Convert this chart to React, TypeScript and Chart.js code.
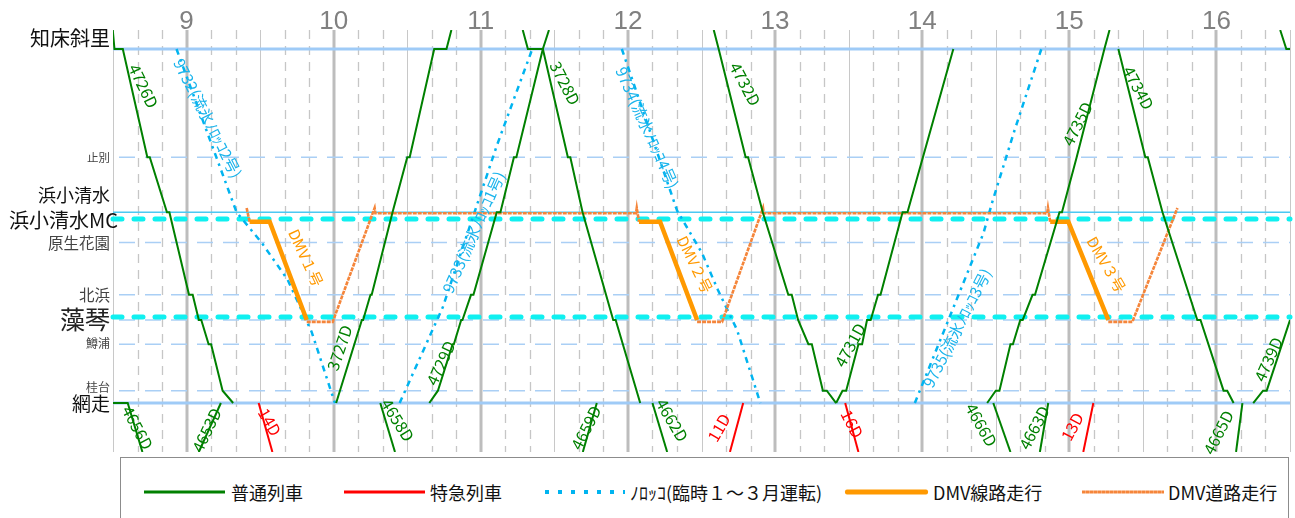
import React, { useEffect, useRef } from "react";
import { Chart, registerables } from "chart.js";

Chart.register(...registerables);

// ---------- axes ----------
const hourTicks = [9, 10, 11, 12, 13, 14, 15, 16];
const timeRange = ["8:30", "16:30"];
const gridStepMinutes = 10;

const stationNames = ["知床斜里", "止別", "浜小清水", "原生花園", "北浜", "藻琴", "鱒浦", "桂台", "網走"];
const stationKm = [37.3, 25.9, 20.1, 16.9, 11.4, 8.75, 6.2, 1.3, 0];
const edgeNames = ["釧路方面", "石北方面"];
const edgeKm = [39.3, -5.16];
const mcNames = ["浜小清水MC", "藻琴MC"];
const mcKm = [19.4, 9.06];

// ---------- local trains (普通列車) ----------
const t4656D = [["8:29", "網走"], ["8:36", "網走"], ["8:42", "石北方面"]];
const t4726D = [["8:29.9", "釧路方面"], ["8:30.6", "知床斜里"], ["8:34", "知床斜里"], ["8:44", "止別"], ["8:45", "止別"], ["8:52", "浜小清水"], ["8:53", "浜小清水"], ["9:01", "北浜"], ["9:02.5", "北浜"], ["9:05", "藻琴"], ["9:06", "藻琴"], ["9:09", "鱒浦"], ["9:10", "鱒浦"], ["9:14.7", "桂台"], ["9:19", "網走"]];
const t4653D = [["9:05", "石北方面"], ["9:14", "網走"]];
const t3727D = [["10:01", "網走"], ["10:11.5", "藻琴"], ["10:12", "藻琴"], ["10:15", "北浜"], ["10:15.5", "北浜"], ["10:24", "浜小清水"], ["10:30", "止別"], ["10:31", "止別"], ["10:41", "知床斜里"], ["10:46", "知床斜里"], ["10:48", "釧路方面"]];
const t4658D = [["10:19", "網走"], ["10:25", "石北方面"]];
const t4729D = [["10:39", "網走"], ["10:42.5", "桂台"], ["10:48.5", "鱒浦"], ["10:49", "鱒浦"], ["10:52", "藻琴"], ["10:52.5", "藻琴"], ["10:56", "北浜"], ["10:57", "北浜"], ["11:06.5", "浜小清水"], ["11:08", "浜小清水"], ["11:13.5", "止別"], ["11:14.5", "止別"], ["11:25.3", "知床斜里"], ["11:27.8", "釧路方面"]];
const t3728D = [["11:17.1", "釧路方面"], ["11:19.2", "知床斜里"], ["11:25.3", "知床斜里"], ["11:35.5", "止別"], ["11:36.5", "止別"], ["11:41.5", "浜小清水"], ["11:54", "藻琴"], ["11:55", "藻琴"], ["12:05", "網走"]];
const t4659D = [["11:41.6", "石北方面"], ["11:47.3", "網走"]];
const t4662D = [["12:10", "網走"], ["12:16", "石北方面"]];
const t4732D = [["12:35", "釧路方面"], ["12:37", "知床斜里"], ["12:48", "止別"], ["12:49", "止別"], ["12:55", "浜小清水"], ["13:05.4", "北浜"], ["13:06.8", "北浜"], ["13:09.4", "藻琴"], ["13:13.6", "鱒浦"], ["13:15", "鱒浦"], ["13:19.5", "桂台"], ["13:21.1", "桂台"], ["13:24.9", "網走"]];
const t4731D = [["13:24.9", "網走"], ["13:27.5", "桂台"], ["13:29", "桂台"], ["13:34", "鱒浦"], ["13:35.5", "鱒浦"], ["13:37.5", "藻琴"], ["13:39", "藻琴"], ["13:42", "北浜"], ["13:43", "北浜"], ["13:52", "浜小清水"], ["13:54", "浜小清水"], ["14:12.7", "知床斜里"]];
const t4666D = [["14:29", "網走"], ["14:36", "石北方面"]];
const t4735D = [["14:26.5", "網走"], ["14:30", "桂台"], ["14:31.5", "桂台"], ["14:36", "鱒浦"], ["14:37", "鱒浦"], ["14:40", "藻琴"], ["14:41", "藻琴"], ["14:45", "北浜"], ["14:46", "北浜"], ["14:56", "浜小清水"], ["14:57", "浜小清水"], ["15:03", "止別"], ["15:14.3", "知床斜里"], ["15:16.4", "釧路方面"]];
const t4663D = [["14:48", "石北方面"], ["14:51.4", "網走"]];
const t4734D = [["15:20", "知床斜里"], ["15:31", "止別"], ["15:32", "止別"], ["15:38", "浜小清水"], ["15:52.2", "藻琴"], ["15:53.5", "藻琴"], ["16:02.9", "桂台"], ["16:04.4", "桂台"], ["16:07", "網走"]];
const t4665D = [["16:08", "石北方面"], ["16:10.6", "網走"]];
const t4739D = [["16:15", "網走"], ["16:19", "桂台"], ["16:20.5", "桂台"], ["16:30", "藻琴"], ["16:33", "北浜"]];
const tNextDown = [["16:26", "釧路方面"], ["16:28.5", "知床斜里"], ["16:30", "知床斜里"], ["16:41", "止別"]];

// ---------- limited express (特急列車) ----------
const t14D = [["9:29.4", "網走"], ["9:35", "石北方面"]];
const t11D = [["12:41.6", "石北方面"], ["12:47", "網走"]];
const t16D = [["13:28.6", "網走"], ["13:34", "石北方面"]];
const t13D = [["15:05.7", "石北方面"], ["15:09.8", "網走"]];

// ---------- trolley (ﾉﾛｯｺ) ----------
const t9732 = [["8:55.9", "知床斜里"], ["9:20.4", "浜小清水"], ["9:30.6", "原生花園"], ["9:41.2", 13.0], ["9:51", 7.5], ["10:00.5", "網走"]];
const t9733 = [["10:26.9", "網走"], ["10:44.5", 10.1], ["11:06.5", 27.1], ["11:21", "知床斜里"]];
const t9734 = [["11:57.5", "知床斜里"], ["12:20", 20.3], ["12:30.2", 15.8], ["12:36.7", 11.9], ["12:44.5", 7.7], ["12:54", "網走"]];
const t9735 = [["13:57", "網走"], ["14:25", 17.9], ["14:28.5", 21.1], ["14:37.5", 28.6], ["14:48.6", "知床斜里"]];

// ---------- DMV ----------
const dmvRail1 = [["9:25.7", 19.1], ["9:33.9", 19.1], ["9:49", "藻琴"]];
const dmvRail2 = [["12:04.5", 19.1], ["12:13.1", 19.1], ["12:28.2", "藻琴"]];
const dmvRail3 = [["14:52.2", 19.1], ["14:59.6", 19.1], ["15:15.9", "藻琴"]];
const dmvRoad1 = [["9:24.5", 20.55], ["9:25.7", 19.1]];
const dmvRoad2 = [["9:49", 8.55], ["9:59.6", 8.55], ["10:16.7", 20.55], ["10:17", 20.0], ["12:03.3", 20.0], ["12:03.6", 20.55], ["12:04.5", 19.1]];
const dmvRoad3 = [["12:28.2", 8.55], ["12:38.4", 8.55], ["12:55.1", 20.55], ["12:55.4", 20.0], ["14:51", 20.0], ["14:51.3", 20.55], ["14:52.2", 19.1]];
const dmvRoad4 = [["15:15.9", 8.55], ["15:25.7", 8.55], ["15:44.1", 20.55]];

const localTrains = [t4656D, t4726D, t4653D, t3727D, t4658D, t4729D, t3728D, t4659D, t4662D, t4732D, t4731D, t4666D, t4735D, t4663D, t4734D, t4665D, t4739D, tNextDown];
const expressTrains = [t14D, t11D, t16D, t13D];
const trolleyTrains = [t9732, t9733, t9734, t9735];
const dmvRailRuns = [dmvRail1, dmvRail2, dmvRail3];
const dmvRoadRuns = [dmvRoad1, dmvRoad2, dmvRoad3, dmvRoad4];

// ---------- label texts ----------
const legendTexts = ["普通列車", "特急列車", "ﾉﾛｯｺ(臨時１～３月運転)", "DMV線路走行", "DMV道路走行"];

// annotation anchors (text, time, km, rotation deg)
const localLabels: [string, string, number, number][] = [
  ["4726D", "8:42.4", 33.4, 64], ["3727D", "10:02.4", 5.8, -71], ["4729D", "10:43.7", 4.2, -65],
  ["3728D", "11:34.3", 33.7, 63], ["4732D", "12:47.8", 33.6, 62], ["4731D", "13:30.6", 6.1, -61],
  ["4735D", "15:03.3", 29.4, -63], ["4734D", "15:28.2", 33.2, 62], ["4739D", "16:21.2", 4.6, -66],
  ["4656D", "8:40", -2.6, 62], ["4653D", "9:08.2", -2.85, -64], ["4658D", "10:26.1", -1.8, 58],
  ["4659D", "11:42.9", -2.6, -63], ["4662D", "12:18", -1.8, 60], ["4666D", "14:24.1", -2.3, 61],
  ["4663D", "14:45.7", -2.6, -62], ["4665D", "16:00.8", -3.1, -63],
];
const expressLabels: [string, string, number, number][] = [
  ["14D", "9:33.9", -2.0, 60], ["11D", "12:37.1", -2.6, -60], ["16D", "13:31.4", -2.2, 63], ["13D", "15:01.2", -2.5, -62],
];
const trolleyLabels: [string, string, number, number][] = [
  ["9732(流氷ﾉﾛｯｺ2号)", "9:08.6", 30.0, 63], ["9733(流氷ﾉﾛｯｺ1号)", "10:57.1", 18.0, -66],
  ["9734(流氷ﾉﾛｯｺ4号)", "12:07.8", 29.0, 66], ["9735(流氷ﾉﾛｯｺ3号)", "14:14.3", 7.9, -63],
];
const dmvLabels: [string, string, number, number][] = [
  ["DMV１号", "9:48.6", 15.3, 65], ["DMV２号", "12:27.3", 14.6, 64], ["DMV３号", "15:15.1", 14.6, 60],
];

// ---------- styles ----------
const COLORS = { local: "#008000", express: "#ff0000", trolley: "#00b4f0", dmvRail: "#ff9900", dmvRoad: "#f5853a" };
const JP = "'Noto Sans CJK JP', 'Noto Sans', sans-serif";
const stationLabelStyle: Record<string, { size: number; color: string; dy: number }> = {
  "知床斜里": { size: 20, color: "#111", dy: -11 },
  "止別": { size: 11.5, color: "#444", dy: 0 },
  "浜小清水": { size: 18, color: "#111", dy: -17 },
  "原生花園": { size: 15.5, color: "#444", dy: 0 },
  "北浜": { size: 15.5, color: "#444", dy: 0 },
  "藻琴": { size: 25, color: "#222", dy: -0.5 },
  "鱒浦": { size: 12, color: "#444", dy: -1 },
  "桂台": { size: 12, color: "#444", dy: -3 },
  "網走": { size: 19, color: "#111", dy: 1 },
};

function tm(s: string) {
  const [h, m] = s.split(":");
  return Number(h) + parseFloat(m) / 60;
}
function kmOf(v: string | number): number {
  if (typeof v === "number") return v;
  let i = stationNames.indexOf(v);
  if (i >= 0) return stationKm[i];
  i = edgeNames.indexOf(v);
  if (i >= 0) return edgeKm[i];
  i = mcNames.indexOf(v);
  return mcKm[i];
}
const toPoints = (tr: (string | number)[][]) => tr.map(([t, s]) => ({ x: tm(t as string), y: kmOf(s) }));

function ds(tr: any[], color: string, width: number, dash: number[] = []) {
  return {
    data: toPoints(tr),
    borderColor: color,
    backgroundColor: color,
    borderWidth: width,
    borderDash: dash,
    pointRadius: 0,
    tension: 0,
    fill: false,
    clip: 0,
    borderJoinStyle: "miter" as const,
  };
}

const diagramPlugin = {
  id: "diagram",
  beforeDatasetsDraw(chart: any) {
    const { ctx, chartArea: a, scales } = chart;
    const x = scales.x, y = scales.y;
    ctx.save();
    // vertical time grid
    const start = Math.round(tm(timeRange[0]) * 60);
    const end = Math.round(tm(timeRange[1]) * 60);
    for (let m = start; m <= end; m += gridStepMinutes) {
      const px = Math.round(x.getPixelForValue(m / 60));
      const r = m % 60;
      ctx.beginPath();
      if (r === 0) {
        ctx.lineWidth = 3; ctx.strokeStyle = "#bdbdbd"; ctx.setLineDash([]);
      } else if (r === 30) {
        ctx.lineWidth = 1; ctx.strokeStyle = "#c8c8c8"; ctx.setLineDash([]);
      } else {
        ctx.lineWidth = 1.3; ctx.strokeStyle = "#c6c6c6"; ctx.setLineDash([9, 7]);
      }
      const off = r === 0 ? 0 : 0.5;
      ctx.moveTo(px + off, a.top);
      ctx.lineTo(px + off, a.bottom);
      ctx.stroke();
    }
    // station lines
    stationNames.forEach((n, i) => {
      const py = y.getPixelForValue(stationKm[i]);
      ctx.beginPath();
      if (n === "知床斜里" || n === "網走") {
        ctx.lineWidth = 3; ctx.strokeStyle = "#9fcbf7"; ctx.setLineDash([]);
      } else if (n === "浜小清水") {
        ctx.lineWidth = 1.3; ctx.strokeStyle = "#4cc8f2"; ctx.setLineDash([]);
      } else {
        ctx.lineWidth = 1.5; ctx.strokeStyle = "#aacff5"; ctx.setLineDash([16, 10]);
      }
      ctx.moveTo(a.left + (n === "知床斜里" || n === "網走" || n === "浜小清水" ? 0 : 6), py);
      ctx.lineTo(a.right, py);
      ctx.stroke();
    });
    // mode change lines
    mcKm.forEach((k) => {
      const py = y.getPixelForValue(k);
      ctx.beginPath();
      ctx.lineWidth = 5; ctx.strokeStyle = "#10f0f0"; ctx.setLineDash([9, 12]);
      ctx.lineCap = "round";
      ctx.moveTo(a.left, py);
      ctx.lineTo(a.right, py);
      ctx.stroke();
      ctx.lineCap = "butt";
    });
    ctx.restore();
  },
  afterDatasetsDraw(chart: any) {
    const { ctx, chartArea: a, scales } = chart;
    const x = scales.x, y = scales.y;
    ctx.save();
    const drawGroup = (arr: [string, string, number, number][], color: string, size: number) => {
      ctx.fillStyle = color;
      ctx.font = `${size}px ${JP}`;
      ctx.textAlign = "center";
      ctx.textBaseline = "middle";
      arr.forEach(([text, t, k, ang]) => {
        const px = x.getPixelForValue(tm(t));
        const py = y.getPixelForValue(k);
        ctx.save();
        ctx.translate(px, py);
        ctx.rotate((ang * Math.PI) / 180);
        ctx.fillText(text, 0, 0);
        ctx.restore();
      });
    };
    drawGroup(localLabels, COLORS.local, 16);
    drawGroup(expressLabels, COLORS.express, 16);
    drawGroup(trolleyLabels, "#1ab4ec", 15.5);
    drawGroup(dmvLabels, COLORS.dmvRail, 15);

    // hour labels at top
    ctx.fillStyle = "#808080";
    ctx.font = "26px 'Liberation Sans', Arial, sans-serif";
    ctx.textAlign = "center";
    ctx.textBaseline = "middle";
    hourTicks.forEach((h) => {
      ctx.fillText(String(h), x.getPixelForValue(h), 22);
    });

    // station labels
    ctx.textAlign = "right";
    stationNames.forEach((n, i) => {
      const st = stationLabelStyle[n];
      ctx.fillStyle = st.color;
      ctx.font = `${st.size}px ${JP}`;
      ctx.fillText(n, a.left - 3, y.getPixelForValue(stationKm[i]) + st.dy);
    });
    ctx.fillStyle = "#111";
    ctx.font = `20px ${JP}`;
    ctx.fillText(mcNames[0], a.left + 5, y.getPixelForValue(mcKm[0]) + 2);
    ctx.restore();
  },
};

const legendLayout = [
  { line: [144, 81], text: 231 },
  { line: [344, 81], text: 430 },
  { line: [545, 80], text: 630 },
  { line: [845, 83], text: 933 },
  { line: [1082, 82], text: 1168 },
];
const legendSwatches: React.CSSProperties[] = [
  { height: 3, background: COLORS.local },
  { height: 3, background: COLORS.express },
  { height: 4, background: `repeating-linear-gradient(90deg, ${COLORS.trolley} 0 4px, transparent 4px 13px)` },
  { height: 5, background: COLORS.dmvRail, borderRadius: 2 },
  { height: 3, background: `repeating-linear-gradient(90deg, ${COLORS.dmvRoad} 0 3px, #f9a66e 3px 4px)` },
];

export default function App() {
  const ref = useRef<HTMLCanvasElement>(null);
  useEffect(() => {
    document.body.style.margin = "0";
    document.body.style.overflow = "hidden";
    const datasets = [
      ...expressTrains.map((t) => ds(t, COLORS.express, 2)),
      ...localTrains.map((t) => ds(t, COLORS.local, 2)),
      ...dmvRailRuns.map((t) => ds(t, COLORS.dmvRail, 4.5)),
      ...dmvRoadRuns.map((t) => ds(t, COLORS.dmvRoad, 2.6, [4, 1])),
      ...trolleyTrains.map((t) => ds(t, COLORS.trolley, 2.5, [6, 5, 2.5, 5])),
    ];
    const chart = new Chart(ref.current as HTMLCanvasElement, {
      type: "line",
      data: { datasets } as any,
      options: {
        responsive: false,
        animation: false,
        events: [],
        layout: { padding: { left: 113, top: 30, right: 5, bottom: 3 } },
        scales: {
          x: { type: "linear", min: tm(timeRange[0]), max: tm(timeRange[1]), display: false },
          y: { type: "linear", min: edgeKm[1], max: edgeKm[0], display: false },
        },
        plugins: { legend: { display: false }, tooltip: { enabled: false } },
      },
      plugins: [diagramPlugin],
    });
    return () => chart.destroy();
  }, []);

  return (
    <div style={{ position: "relative", width: 1295, height: 518, overflow: "hidden", background: "#fff" }}>
      <canvas ref={ref} width={1295} height={455} style={{ position: "absolute", left: 0, top: 0, width: 1295, height: 455 }} />
      <div
        style={{
          position: "absolute", left: 120, top: 457, width: 1169, height: 80,
          border: "1px solid #8c8c8c", boxSizing: "border-box", background: "#fff",
        }}
      >
        {legendTexts.map((txt, i) => (
          <React.Fragment key={txt}>
            <div
              style={{
                position: "absolute", left: legendLayout[i].line[0] - 121, width: legendLayout[i].line[1],
                top: 34, transform: "translateY(-50%)", ...legendSwatches[i],
              }}
            />
            <div
              style={{
                position: "absolute", left: legendLayout[i].text - 121, top: 34, transform: "translateY(-50%)",
                font: `18px ${JP}`, color: "#111", whiteSpace: "nowrap", lineHeight: "20px",
              }}
            >
              {txt}
            </div>
          </React.Fragment>
        ))}
      </div>
    </div>
  );
}
